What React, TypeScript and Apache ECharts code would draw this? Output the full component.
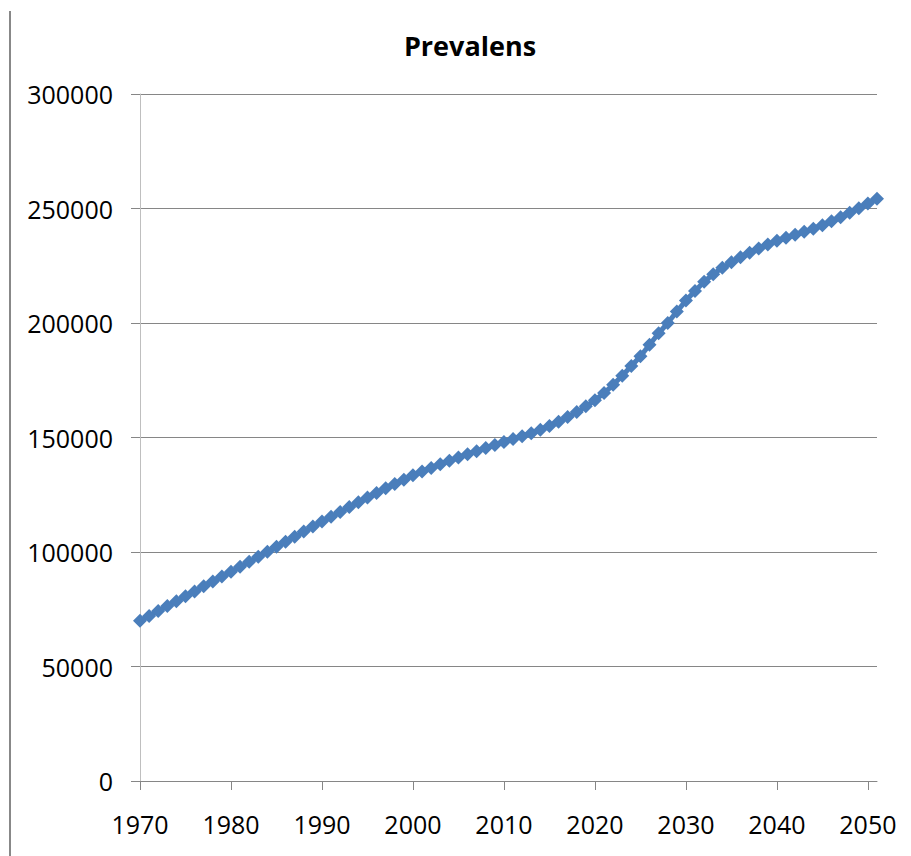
import React, { useEffect, useRef } from "react";
import * as echarts from "echarts";

const years: string[] = [];
for (let y = 1970; y <= 2051; y++) years.push(String(y));

const prevalens = [
  70000, 72100, 74200, 76400, 78500, 80700, 82800, 85000, 87100, 89300,
  91400, 93600, 95700, 97900, 100100, 102300, 104500, 106700, 108900, 111100,
  113300, 115400, 117500, 119600, 121700, 123800, 125800, 127800, 129700, 131600,
  133500, 135100, 136700, 138300, 139800, 141300, 142700, 144000, 145400, 146700,
  148000, 149300, 150600, 151900, 153400, 155000, 156900, 158900, 161100, 163600,
  166300, 169400, 173000, 177000, 181200, 185500, 190500, 195500, 200000, 205000,
  209800, 214000, 218000, 221300, 224100, 226500, 228700, 230700, 232500, 234300,
  235900, 237200, 238500, 239800, 241200, 242700, 244400, 246200, 248100, 250100,
  252200, 254300,
];

const yTicks = { min: 0, max: 300000, interval: 50000 };
const titleText = "Prevalens";

export default function App() {
  const ref = useRef<HTMLDivElement>(null);
  useEffect(() => {
    if (!ref.current) return;
    const chart = echarts.init(ref.current, null, { renderer: "svg" });
    chart.setOption({
      animation: false,
      backgroundColor: "#ffffff",
      title: {
        text: titleText,
        left: 465,
        textAlign: "center",
        top: 27,
        textStyle: {
          fontFamily: "Open Sans",
          fontWeight: "bold",
          fontSize: 27,
          color: "#000000",
        },
      },
      graphic: [
        {
          type: "line",
          shape: { x1: 10, y1: 11, x2: 10, y2: 856 },
          style: { stroke: "#888888", lineWidth: 2 },
        },
      ],
      grid: { left: 140, right: 34, top: 94, bottom: 75 },
      xAxis: {
        type: "category",
        data: years,
        boundaryGap: false,
        axisLine: { lineStyle: { color: "#868686", width: 1 } },
        axisTick: {
          show: true,
          length: 9,
          interval: (i: number) => i % 10 === 0,
          lineStyle: { color: "#868686" },
        },
        axisLabel: {
          interval: (i: number) => i % 10 === 0,
          margin: 30,
          fontFamily: "Open Sans",
          fontSize: 25,
          color: "#000000",
        },
        splitLine: { show: false },
      },
      yAxis: {
        type: "value",
        min: yTicks.min,
        max: yTicks.max,
        interval: yTicks.interval,
        axisLine: { show: true, lineStyle: { color: "#BFBFBF", width: 1 } },
        axisTick: { show: true, length: 9, lineStyle: { color: "#868686" } },
        axisLabel: {
          margin: 27,
          fontFamily: "Open Sans",
          fontSize: 25,
          color: "#000000",
          formatter: (v: number) => String(v),
        },
        splitLine: { show: true, lineStyle: { color: "#868686", width: 1 } },
      },
      series: [
        {
          type: "line",
          data: prevalens,
          symbol: "diamond",
          symbolSize: 14,
          showAllSymbol: true,
          itemStyle: { color: "#4A7EBB" },
          lineStyle: { color: "#4A7EBB", width: 5 },
        },
      ],
    });
    return () => chart.dispose();
  }, []);
  return (
    <div
      ref={ref}
      style={{ position: "absolute", left: 0, top: 0, width: 911, height: 856 }}
    />
  );
}
